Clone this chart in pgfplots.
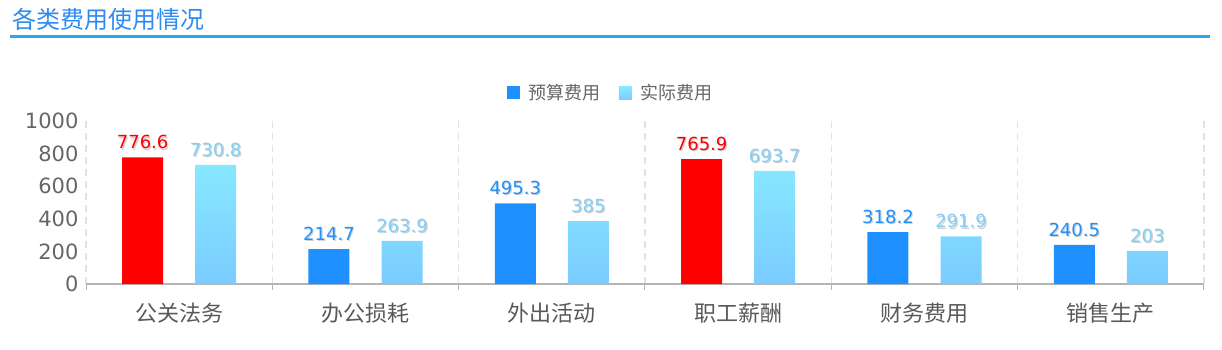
\documentclass[border=0pt]{standalone}
\usepackage{pgfplots}
\pgfplotsset{compat=1.18}
\usepackage{fontspec}
\setmainfont{DejaVu Sans}
\newfontfamily\cjk{Noto Sans CJK SC}
\definecolor{dblue}{HTML}{1E90FF}
\definecolor{titleblue}{HTML}{2E8AF0}
\definecolor{linecol}{HTML}{2AA6F8}
\definecolor{ltop}{HTML}{88E8FF}
\definecolor{lbot}{HTML}{7ACCFF}
\definecolor{llabel}{HTML}{80CFF8}
\definecolor{axisgray}{HTML}{B4B4B4}
\definecolor{gridcol}{HTML}{DCE3F0}
\definecolor{ticktext}{HTML}{666666}
\definecolor{xtext}{HTML}{595959}
\newcommand\shadowed[1]{\makebox[0pt][l]{\kern0.6pt\raisebox{-0.6pt}{\textcolor{black!18}{#1}}}#1}
\begin{document}
\begin{tikzpicture}
\path[use as bounding box] (0,0) rectangle (611pt,174.5pt);
\node[anchor=west, text=titleblue, font=\cjk\fontsize{12}{14}\selectfont, inner sep=0pt] at (6pt,165pt) {各类费用使用情况};
\draw[linecol, line width=1.5pt] (5pt,156pt) -- (605pt,156pt);
\begin{axis}[
  at={(43pt,32.5pt)}, anchor=south west,
  scale only axis, width=559pt, height=81.5pt,
  xmin=-0.5, xmax=5.5, ymin=0, ymax=1000,
  ybar, bar width=0.22,
  /pgf/number format/assume math mode=true,
  /pgf/number format/1000 sep={},
  axis x line*=bottom, axis y line*=left,
  y axis line style={draw=none},
  x axis line style={color=axisgray, line width=0.7pt},
  xtick={0,1,2,3,4,5},
  xticklabels={公关法务,办公损耗,外出活动,职工薪酬,财务费用,销售生产},
  xticklabel style={font=\cjk\fontsize{11}{12}\selectfont, text=xtext, yshift=-1.5pt},
  major x tick style={draw=none},
  minor xtick={-0.5,0.5,1.5,2.5,3.5,4.5,5.5},
  minor x tick style={color=axisgray, line width=0.5pt},
  minor tick length=3pt,
  tick align=outside,
  xminorgrids=true,
  minor x grid style={color=gridcol, line width=0.6pt, dash pattern=on 3.5pt off 2.5pt},
  ytick={0,200,400,600,800,1000},
  ytick style={draw=none},
  yticklabel style={font=\fontsize{10.5}{12}\selectfont, text=ticktext, xshift=4pt},
  legend columns=2,
  legend style={draw=none, at={(0.5,1)}, anchor=center, yshift=14pt, xshift=-16.5pt,
    font=\cjk\fontsize{9}{10}\selectfont, text=ticktext,
    /tikz/every even column/.append style={column sep=7pt}},
  legend image code/.code={\fill[#1] (0pt,-3.25pt) rectangle (6.5pt,3.25pt); \path (9pt,0pt);},
  nodes near coords={\shadowed{\pgfmathprintnumber{\pgfplotspointmeta}}},
  every node near coord/.append style={font=\fontsize{9}{10}\selectfont},
]
\addplot[bar shift=-0.196, fill=dblue, draw=none,
  every node near coord/.append style={text=dblue}]
  coordinates {(1,214.7) (2,495.3) (4,318.2) (5,240.5)};
\addlegendentry{预算费用}
\addplot[bar shift=0.196, top color=ltop, bottom color=lbot, draw=none,
  every node near coord/.append style={text=llabel}]
  coordinates {(0,730.8) (1,263.9) (2,385) (3,693.7) (4,291.9) (5,203)};
\addlegendentry{实际费用}
\addplot[bar shift=-0.196, fill=red, draw=none, forget plot,
  every node near coord/.append style={text=red}]
  coordinates {(0,776.6) (3,765.9)};
\end{axis}
\end{tikzpicture}
\end{document}
